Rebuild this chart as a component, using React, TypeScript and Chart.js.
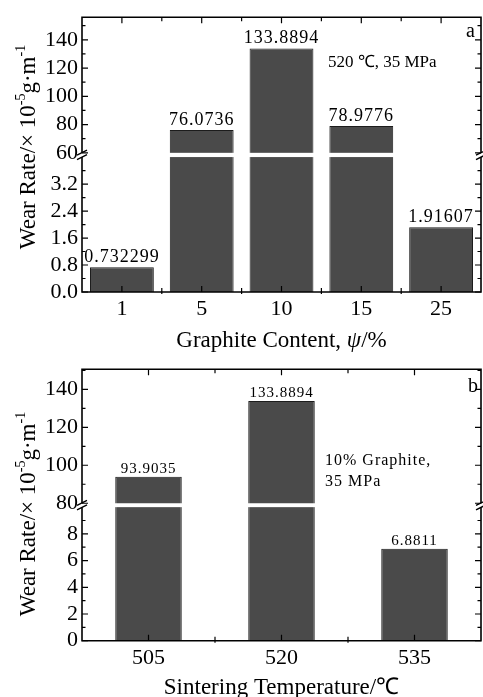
import { useEffect, useRef } from 'react';
import { Chart, registerables } from 'chart.js';

Chart.register(...registerables);

const FONT = "'Liberation Serif', 'Times New Roman', serif";

// ---------- Panel a : graphite content ----------
const contentCategories = ['1', '5', '10', '15', '25'];
const contentWearRate = [0.732299, 76.0736, 133.8894, 78.9776, 1.91607];
const contentHighTicks = [60, 80, 100, 120, 140];
const contentHighMinor = [70, 90, 110, 130, 150];
const contentLowTicks = [0, 0.8, 1.6, 2.4, 3.2];
const contentLowMinor = [0.4, 1.2, 2.0, 2.8, 3.6];

// ---------- Panel b : sintering temperature ----------
const tempCategories = ['505', '520', '535'];
const tempWearRate = [93.9035, 133.8894, 6.8811];
const tempHighTicks = [80, 100, 120, 140];
const tempHighMinor = [90, 110, 130, 150];
const tempLowTicks = [0, 2, 4, 6, 8];
const tempLowMinor = [1, 3, 5, 7, 9];

type TextPart = { t: string; italic?: boolean };

interface PanelSpec {
  categories: string[];
  values: number[];
  highTicks: number[];
  highMinor: number[];
  lowTicks: number[];
  lowMinor: number[];
  highBreak: number;
  lowBreak: number;
  highRange: [number, number];
  lowRange: [number, number];
  lowDecimals: number;
  categoryPercentage: number;
  xTitle: TextPart[];
  xTitleBaseline: number;
  height: number;
  padTop: number;
  xAxisHeight: number;
  labelFont: string;
  labelSpacing: string;
  labelGap: number;
  notes: string[];
  noteX: number;
  noteY: number;
  noteLine: number;
  noteFont: string;
  noteSpacing: string;
  letter: string;
  letterRight: number;
  letterBaseline: number;
  yTitleCenter: number;
}

const panelA: PanelSpec = {
  categories: contentCategories,
  values: contentWearRate,
  highTicks: contentHighTicks,
  highMinor: contentHighMinor,
  lowTicks: contentLowTicks,
  lowMinor: contentLowMinor,
  highBreak: 60,
  lowBreak: 4.0,
  highRange: [58.74, 156],
  lowRange: [0, 4.073],
  lowDecimals: 1,
  categoryPercentage: 0.8,
  xTitle: [{ t: 'Graphite Content, ' }, { t: 'ψ', italic: true }, { t: '/%' }],
  xTitleBaseline: 346.5,
  height: 352,
  padTop: 12.7,
  xAxisHeight: 60,
  labelFont: `18px ${FONT}`,
  labelSpacing: '1px',
  labelGap: 5.5,
  notes: ['520 ℃, 35 MPa'],
  noteX: 328,
  noteY: 66.5,
  noteLine: 20,
  noteFont: `17px ${FONT}`,
  noteSpacing: '0px',
  letter: 'a',
  letterRight: 6,
  letterBaseline: 37,
  yTitleCenter: 147,
};

const panelB: PanelSpec = {
  categories: tempCategories,
  values: tempWearRate,
  highTicks: tempHighTicks,
  highMinor: tempHighMinor,
  lowTicks: tempLowTicks,
  lowMinor: tempLowMinor,
  highBreak: 80,
  lowBreak: 10,
  highRange: [79.1, 150.6],
  lowRange: [0, 10.165],
  lowDecimals: 0,
  categoryPercentage: 0.5,
  xTitle: [{ t: 'Sintering Temperature/℃' }],
  xTitleBaseline: 341.5,
  height: 345,
  padTop: 10.7,
  xAxisHeight: 56.3,
  labelFont: `15px ${FONT}`,
  labelSpacing: '1px',
  labelGap: 3.5,
  notes: ['10% Graphite,', '35 MPa'],
  noteX: 325,
  noteY: 113,
  noteLine: 21,
  noteFont: `16px ${FONT}`,
  noteSpacing: '1px',
  letter: 'b',
  letterRight: 3,
  letterBaseline: 39.5,
  yTitleCenter: 162,
};

function drawYTitle(ctx: CanvasRenderingContext2D, x: number, cy: number) {
  const parts = [
    { t: 'Wear Rate/× 10', sup: false },
    { t: '-5', sup: true },
    { t: 'g·m', sup: false },
    { t: '-1', sup: true },
  ];
  const big = `23px ${FONT}`;
  const small = `14px ${FONT}`;
  let total = 0;
  const widths = parts.map((p) => {
    ctx.font = p.sup ? small : big;
    const w = ctx.measureText(p.t).width;
    total += w;
    return w;
  });
  ctx.save();
  ctx.translate(x, cy);
  ctx.rotate(-Math.PI / 2);
  ctx.textAlign = 'left';
  ctx.textBaseline = 'alphabetic';
  ctx.fillStyle = '#000';
  let pos = -total / 2;
  parts.forEach((p, i) => {
    ctx.font = p.sup ? small : big;
    ctx.fillText(p.t, pos, p.sup ? -10 : 0);
    pos += widths[i];
  });
  ctx.restore();
}

function drawXTitle(ctx: CanvasRenderingContext2D, parts: TextPart[], cx: number, baseline: number) {
  const fontOf = (p: TextPart) => `${p.italic ? 'italic ' : ''}23px ${FONT}`;
  let total = 0;
  const widths = parts.map((p) => {
    ctx.font = fontOf(p);
    const w = ctx.measureText(p.t).width;
    total += w;
    return w;
  });
  ctx.save();
  ctx.textAlign = 'left';
  ctx.textBaseline = 'alphabetic';
  ctx.fillStyle = '#000';
  let pos = cx - total / 2;
  parts.forEach((p, i) => {
    ctx.font = fontOf(p);
    ctx.fillText(p.t, pos, baseline);
    pos += widths[i];
  });
  ctx.restore();
}

function makeDecor(spec: PanelSpec) {
  return {
    id: 'decor',
    afterDraw(chart: any) {
      const ctx: CanvasRenderingContext2D = chart.ctx;
      const { left, right, top, bottom } = chart.chartArea;
      const yH = chart.scales.yHigh;
      const yL = chart.scales.yLow;
      const xs = chart.scales.x;
      const gapTop = yH.getPixelForValue(spec.highBreak);
      const gapBot = yL.getPixelForValue(spec.lowBreak);
      const yc = (gapTop + gapBot) / 2;
      ctx.save();
      // white break band through the bars
      ctx.fillStyle = '#fff';
      ctx.fillRect(left - 1, gapTop, right - left + 2, gapBot - gapTop);

      // frame
      ctx.strokeStyle = '#000';
      ctx.lineWidth = 1.6;
      ctx.beginPath();
      ctx.moveTo(left - 0.8, top);
      ctx.lineTo(right + 0.8, top);
      ctx.moveTo(left - 0.8, bottom);
      ctx.lineTo(right + 0.8, bottom);
      for (const xx of [left, right]) {
        ctx.moveTo(xx, top);
        ctx.lineTo(xx, gapTop);
        ctx.moveTo(xx, gapBot);
        ctx.lineTo(xx, bottom);
      }
      ctx.stroke();

      // ticks
      ctx.lineWidth = 1.2;
      ctx.beginPath();
      const tick = (px: number, py: number, dx: number, dy: number) => {
        ctx.moveTo(px, py);
        ctx.lineTo(px + dx, py + dy);
      };
      const yTicks = (scale: any, vals: number[], len: number) => {
        vals.forEach((v) => {
          const py = scale.getPixelForValue(v);
          if (py < top - 0.5 || py > bottom + 0.5) return;
          if (py > gapTop + 0.5 && py < gapBot - 0.5) return;
          tick(left, py, len, 0);
          tick(right, py, -len, 0);
        });
      };
      yTicks(yH, spec.highTicks, 6);
      yTicks(yH, spec.highMinor, 3.5);
      yTicks(yL, spec.lowTicks, 6);
      yTicks(yL, spec.lowMinor, 3.5);
      const n = spec.categories.length;
      for (let i = 0; i < n; i++) {
        const px = xs.getPixelForValue(i);
        tick(px, bottom, 0, -6);
        tick(px, top, 0, 6);
      }
      for (let i = 1; i < n; i++) {
        const px = xs.getPixelForValue(i - 0.5);
        tick(px, bottom, 0, -4);
        tick(px, bottom, 0, 2);
        tick(px, top, 0, 4);
      }
      ctx.stroke();

      // break marks
      ctx.lineWidth = 1.4;
      ctx.beginPath();
      for (const xx of [left, right]) {
        for (const d of [-2.2, 2.2]) {
          ctx.moveTo(xx - 5, yc + d + 2.5);
          ctx.lineTo(xx + 5, yc + d - 2.5);
        }
      }
      ctx.stroke();

      // value labels
      const metaH = chart.getDatasetMeta(0);
      const metaL = chart.getDatasetMeta(1);
      ctx.fillStyle = '#000';
      ctx.font = spec.labelFont;
      (ctx as any).letterSpacing = spec.labelSpacing;
      ctx.textAlign = 'center';
      ctx.textBaseline = 'alphabetic';
      spec.values.forEach((v, i) => {
        const el = v > spec.lowRange[1] ? metaH.data[i] : metaL.data[i];
        ctx.fillText(String(v), el.x, el.y - spec.labelGap);
      });

      // notes
      ctx.font = spec.noteFont;
      (ctx as any).letterSpacing = spec.noteSpacing;
      ctx.textAlign = 'left';
      spec.notes.forEach((t, i) => {
        ctx.fillText(t, spec.noteX, spec.noteY + i * spec.noteLine);
      });

      // panel letter
      (ctx as any).letterSpacing = '0px';
      ctx.font = `20px ${FONT}`;
      ctx.textAlign = 'right';
      ctx.fillText(spec.letter, right - spec.letterRight, spec.letterBaseline);

      ctx.restore();
      drawYTitle(ctx, 35, spec.yTitleCenter);
      drawXTitle(ctx, spec.xTitle, (left + right) / 2, spec.xTitleBaseline);
    },
  };
}

function buildConfig(spec: PanelSpec): any {
  const lowData = spec.values.map((v) => Math.min(v, spec.lowRange[1]));
  const highData = spec.values.map((v) => (v > spec.lowRange[1] ? v : null));
  const barStyle = {
    backgroundColor: '#4a4a4a',
    borderColor: '#1c1c1c',
    borderWidth: 1,
    grouped: false,
    barPercentage: 1,
    categoryPercentage: spec.categoryPercentage,
  };
  const tickFont = { family: FONT, size: 22 };
  const yTicks = (decimals: number | null) => ({
    color: '#000',
    font: tickFont,
    padding: 4,
    autoSkip: false,
    callback: (v: any) => (decimals === null ? String(v) : Number(v).toFixed(decimals)),
  });
  return {
    type: 'bar',
    data: {
      labels: spec.categories,
      datasets: [
        { ...barStyle, label: 'high', data: highData, yAxisID: 'yHigh' },
        { ...barStyle, label: 'low', data: lowData, yAxisID: 'yLow' },
      ],
    },
    options: {
      animation: false,
      responsive: false,
      devicePixelRatio: 1,
      layout: { padding: { top: spec.padTop, right: 2, left: 0, bottom: 0 } },
      plugins: { legend: { display: false }, tooltip: { enabled: false } },
      scales: {
        x: {
          type: 'category',
          offset: true,
          grid: { display: false, drawTicks: false },
          border: { display: false },
          ticks: { color: '#000', font: tickFont, padding: 4, maxRotation: 0, autoSkip: false },
          afterFit: (s: any) => {
            s.height = spec.xAxisHeight;
          },
        },
        yLow: {
          type: 'linear',
          position: 'left',
          stack: 'panel',
          stackWeight: 1,
          min: spec.lowRange[0],
          max: spec.lowRange[1],
          grid: { display: false, drawTicks: false },
          border: { display: false },
          afterBuildTicks: (s: any) => {
            s.ticks = spec.lowTicks.map((v) => ({ value: v }));
          },
          ticks: yTicks(spec.lowDecimals),
          afterFit: (s: any) => {
            s.width = 82;
          },
        },
        yHigh: {
          type: 'linear',
          position: 'left',
          stack: 'panel',
          stackWeight: 1,
          min: spec.highRange[0],
          max: spec.highRange[1],
          grid: { display: false, drawTicks: false },
          border: { display: false },
          afterBuildTicks: (s: any) => {
            s.ticks = spec.highTicks.map((v) => ({ value: v }));
          },
          ticks: yTicks(null),
          afterFit: (s: any) => {
            s.width = 82;
          },
        },
      },
    },
    plugins: [makeDecor(spec)],
  };
}

function Panel({ spec, top }: { spec: PanelSpec; top: number }) {
  const ref = useRef<HTMLCanvasElement>(null);
  useEffect(() => {
    if (!ref.current) return;
    const chart = new Chart(ref.current, buildConfig(spec));
    return () => chart.destroy();
  }, [spec]);
  return (
    <canvas
      ref={ref}
      width={483}
      height={spec.height}
      style={{ position: 'absolute', left: 0, top, width: 483, height: spec.height, display: 'block' }}
    />
  );
}

export default function App() {
  return (
    <div
      style={{
        position: 'absolute',
        left: 0,
        top: 0,
        width: 483,
        height: 697,
        overflow: 'hidden',
        background: '#fff',
      }}
    >
      <Panel spec={panelA} top={0} />
      <Panel spec={panelB} top={352} />
    </div>
  );
}
